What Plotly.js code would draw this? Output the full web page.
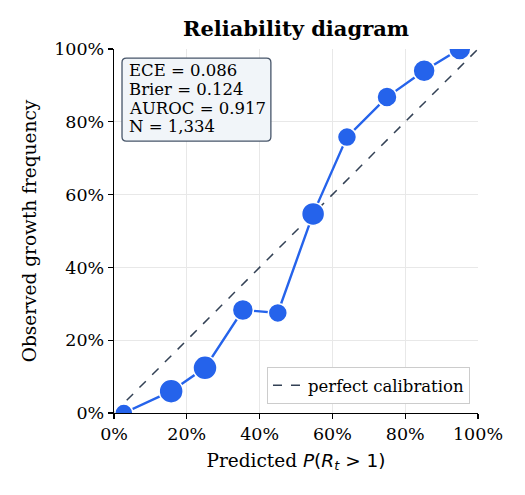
<!DOCTYPE html>
<html>
<head>
<meta charset="utf-8">
<script src="https://cdn.plot.ly/plotly-3.0.1.min.js"></script>
<style>
  html, body { margin: 0; padding: 0; background: #fff; }
  #chart { width: 525px; height: 495px; }
</style>
</head>
<body>
<div id="chart"></div>
<script>
// Binned calibration results
const predicted = [0.027, 0.157, 0.250, 0.354, 0.450, 0.547, 0.640, 0.750, 0.852, 0.950];
const observed  = [0.000, 0.060, 0.124, 0.283, 0.275, 0.547, 0.758, 0.868, 0.940, 1.000];
// Marker diameter per bin (reflects bin population)
const binSizes  = [18, 24, 24, 21, 19, 23, 19, 20, 22, 22];

const diagonal = [0, 1];
const tickVals = [0, 0.2, 0.4, 0.6, 0.8, 1.0];
const tickText = ["0%", "20%", "40%", "60%", "80%", "100%"];

const metrics = ["ECE = 0.086", "Brier = 0.124", "AUROC = 0.917", "N = 1,334"];

const SERIF = "DejaVu Serif, serif";
const BLUE = "#2563eb";
const SLATE = "#334155";

const traces = [
  {
    x: diagonal, y: diagonal,
    mode: "lines",
    name: "perfect calibration",
    line: { color: SLATE, width: 1.5, dash: "dash" },
    hoverinfo: "skip"
  },
  {
    x: predicted, y: observed,
    mode: "lines+markers",
    showlegend: false,
    line: { color: BLUE, width: 2.4 },
    marker: { color: BLUE, opacity: 1, size: binSizes, line: { color: "#ffffff", width: 1.5 } },
    cliponaxis: true
  }
];

const axisCommon = {
  range: [0, 1],
  tickvals: tickVals,
  ticktext: tickText,
  ticks: "outside",
  ticklen: 5,
  tickwidth: 1.2,
  tickcolor: "#000",
  showline: true,
  linecolor: "#000",
  linewidth: 1.3,
  showgrid: true,
  gridcolor: "#e8e8e8",
  gridwidth: 1,
  zeroline: false,
  mirror: false,
  tickfont: { family: SERIF, size: 17.5, color: "#000" }
};

// Metrics panel: rounded frame drawn as a path in plot-area (paper) units
const box = { x0: 0.022, x1: 0.431, y0: 0.747, y1: 0.975, r: 0.012 };
const framePath =
  `M ${box.x0 + box.r} ${box.y1} L ${box.x1 - box.r} ${box.y1} ` +
  `Q ${box.x1} ${box.y1} ${box.x1} ${box.y1 - box.r} ` +
  `L ${box.x1} ${box.y0 + box.r} Q ${box.x1} ${box.y0} ${box.x1 - box.r} ${box.y0} ` +
  `L ${box.x0 + box.r} ${box.y0} Q ${box.x0} ${box.y0} ${box.x0} ${box.y0 + box.r} ` +
  `L ${box.x0} ${box.y1 - box.r} Q ${box.x0} ${box.y1} ${box.x0 + box.r} ${box.y1} Z`;

const lineCenters = [0.9396, 0.888, 0.837, 0.786];
const metricAnnotations = metrics.map((t, i) => ({
  xref: "paper", yref: "paper",
  x: 0.036, y: lineCenters[i],
  xanchor: "left", yanchor: "middle",
  showarrow: false,
  text: t,
  font: { family: SERIF, size: 16.5, color: "#000" }
}));

const layout = {
  width: 525,
  height: 495,
  margin: { l: 114, r: 47, t: 49, b: 82 },
  paper_bgcolor: "#ffffff",
  plot_bgcolor: "#ffffff",
  title: {
    text: "<b>Reliability diagram</b>",
    font: { family: SERIF, size: 21, color: "#000" },
    x: 0.5, xref: "paper",
    y: 0.943, yanchor: "middle"
  },
  xaxis: Object.assign({}, axisCommon, {
    title: {
      text: "Predicted <span style=\"font-family:'DejaVu Sans'\"><i>P</i>(<i>R</i><sub><i>t</i></sub> > 1)</span>",
      font: { family: SERIF, size: 18.5, color: "#000" },
      standoff: 10
    }
  }),
  yaxis: Object.assign({}, axisCommon, {
    title: {
      text: "Observed growth frequency",
      font: { family: SERIF, size: 18.5, color: "#000" },
      standoff: 12
    }
  }),
  legend: {
    x: 0.978, y: 0.025,
    xanchor: "right", yanchor: "bottom",
    bgcolor: "#ffffff",
    bordercolor: "#cccccc",
    borderwidth: 1,
    itemwidth: 30,
    font: { family: SERIF, size: 16.5, color: "#000" }
  },
  shapes: [
    {
      type: "path", xref: "paper", yref: "paper",
      path: framePath,
      fillcolor: "#f1f5f9",
      line: { color: "#475569", width: 1.3 },
      layer: "above"
    }
  ],
  annotations: metricAnnotations,
  showlegend: true
};

Plotly.newPlot("chart", traces, layout, { displayModeBar: false, staticPlot: true });
</script>
</body>
</html>
